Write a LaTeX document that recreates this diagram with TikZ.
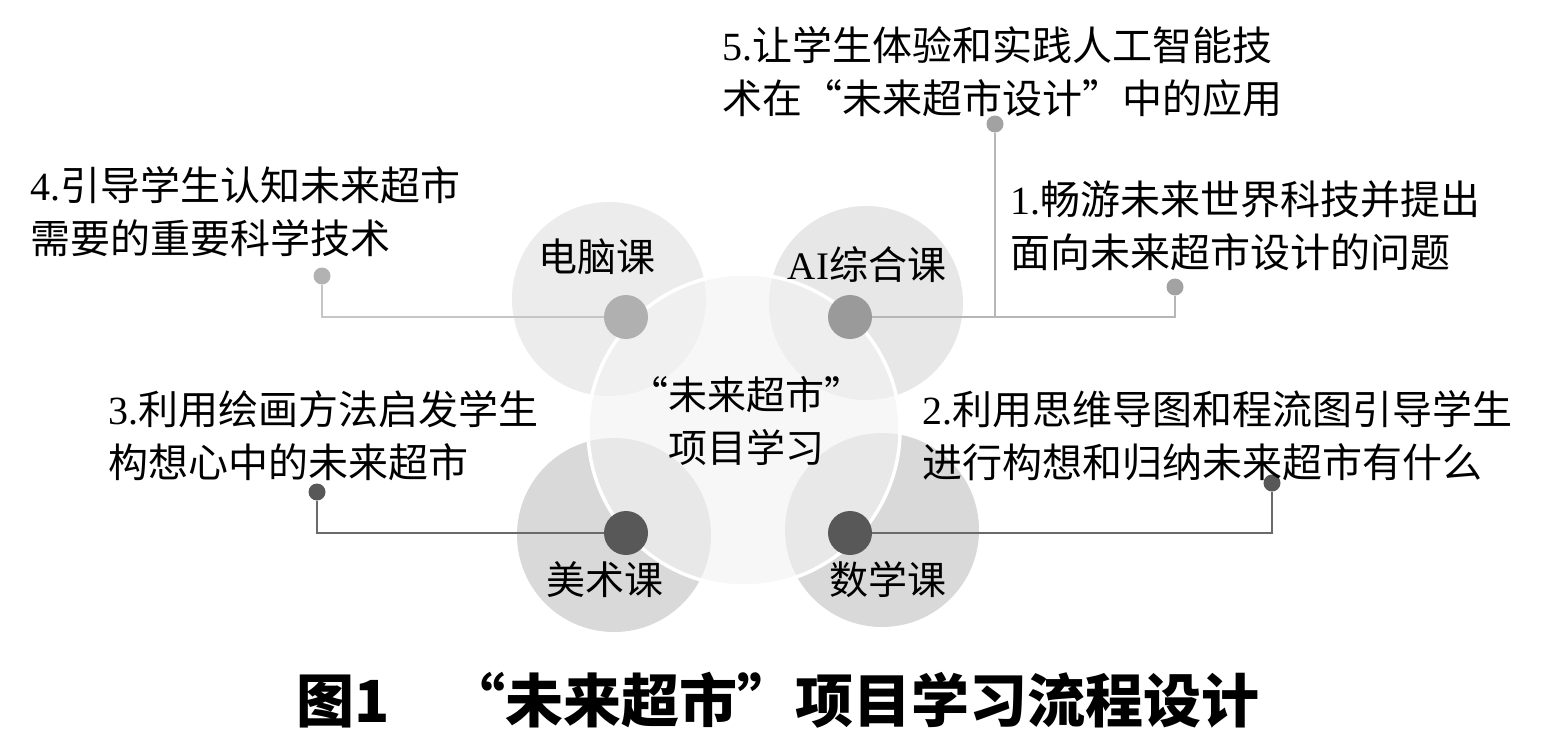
\documentclass[tikz,border=0pt]{standalone}
\usepackage{fontspec}
\newfontfamily\cjk{Noto Sans CJK SC}
\newfontfamily\lat{Liberation Serif}
\begin{document}
\begin{tikzpicture}[x=1pt,y=-1pt,
  bigc/.style={circle,draw=none,minimum size=194pt,inner sep=0},
  bigdot/.style={circle,draw=none,minimum size=44pt,inner sep=0},
  smalldot/.style={circle,draw=none,minimum size=17pt,inner sep=0},
  conn/.style={line width=2pt},
  txt/.style={font=\cjk\fontsize{40}{53}\selectfont,align=left,inner sep=0,anchor=west},
  lbl/.style={font=\cjk\fontsize{39}{53}\selectfont,inner sep=0},
  ttl/.style={font=\cjk\bfseries\fontsize{58}{62}\selectfont,inner sep=0}]
\definecolor{cUL}{HTML}{ECECEC}
\definecolor{cUR}{HTML}{E7E7E7}
\definecolor{cLO}{HTML}{D9D9D9}
\definecolor{cCen}{HTML}{F3F3F3}
\definecolor{dTop}{HTML}{A2A2A2}
\definecolor{dBot}{HTML}{585858}
\definecolor{lUL}{HTML}{C6C6C6}
\definecolor{lUR}{HTML}{B6B6B6}
\definecolor{lBot}{HTML}{6A6A6A}
\useasboundingbox (0,0) rectangle (1557,742);
\fill[white] (0,0) rectangle (1557,742);
% outer circles
\node[bigc,fill=cUL] (cul) at (609,299) {};
\node[bigc,fill=cUR] (cur) at (866,303) {};
\node[bigc,fill=cLO] (cll) at (614,535) {};
\node[bigc,fill=cLO] (clr) at (882,530) {};
% centre circle
\node[circle,minimum size=312pt,inner sep=0,fill=cCen,fill opacity=0.6,draw=white,line width=3.5pt] (cen) at (744,430) {};
% dots
\node[bigdot,fill=dTop!85!white] (d4) at (626,317) {};
\node[bigdot,fill=dTop!95!black] (d1) at (850,317) {};
\node[bigdot,fill=dBot] (d3) at (626,533) {};
\node[bigdot,fill=dBot] (d2) at (850,533) {};
\node[smalldot,fill=lUL!90!black] (s4) at (322,276) {};
\node[smalldot,fill=dTop] (s1) at (1175,287) {};
\node[smalldot,fill=dTop] (s5) at (995,124) {};
\node[smalldot,fill=dBot] (s3) at (317,492) {};
\node[smalldot,fill=dBot] (s2) at (1272,483) {};
% connectors
\draw[conn,lUL] (d4) -| (s4);
\draw[conn,lUR] (d1) -| (s1);
\draw[conn,lUR] (s5) -- (s5 |- d1);
\draw[conn,lBot] (d3) -| (s3);
\draw[conn,lBot] (d2) -| (s2);
% texts
\node[txt] (t5) at (722,72) {{\lat 5.}让学生体验和实践人工智能技\\术在“未来超市设计”中的应用};
\node[txt] (t4) at (30,212) {{\lat 4.}引导学生认知未来超市\\需要的重要科学技术};
\node[txt] (t1) at (1010,226) {{\lat 1.}畅游未来世界科技并提出\\面向未来超市设计的问题};
\node[txt] (t3) at (108,436) {{\lat 3.}利用绘画方法启发学生\\构想心中的未来超市};
\node[txt] (t2) at (922,436) {{\lat 2.}利用思维导图和程流图引导学生\\进行构想和归纳未来超市有什么};
\node[lbl] (l4) at (597,257) {电脑课};
\node[lbl] (l1) at (867,265) {{\lat AI}综合课};
\node[lbl] (l3) at (605,580) {美术课};
\node[lbl] (l2) at (888,580) {数学课};
\node[lbl,align=center] (lc) at (746,421) {“未来超市”\\项目学习};
\node[ttl] (title) at (778,700) {图1\quad“未来超市”项目学习流程设计};
\end{tikzpicture}
\end{document}
